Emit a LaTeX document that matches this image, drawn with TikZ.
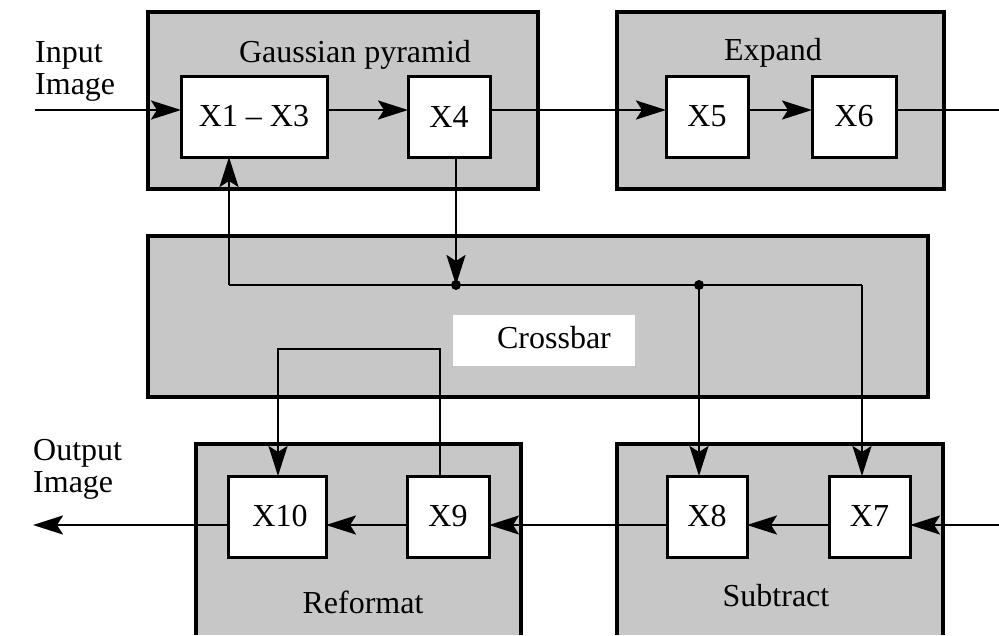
\documentclass[tikz,border=0pt]{standalone}
\usepackage{fontspec}
\setmainfont{Liberation Serif}
\usetikzlibrary{arrows.meta}
\definecolor{panelgray}{gray}{0.78}
\begin{document}
\begin{tikzpicture}[x=1pt,y=-1pt,
  font=\fontsize{32}{36}\selectfont,
  panel/.style={fill=panelgray, draw=black, line width=3.2pt, inner sep=0pt, outer sep=0pt},
  openpanel/.style={fill=panelgray, draw=none, inner sep=0pt, outer sep=0pt},
  edge/.style={draw=black, line width=3.2pt},
  unit/.style={fill=white, draw=black, line width=3pt, inner sep=0pt, outer sep=0pt, minimum height=81pt},
  lbl/.style={inner sep=0pt, anchor=base},
  side/.style={inner sep=0pt, anchor=base west},
  wire/.style={line width=2.5pt},
  conn/.style={wire, -{Stealth[length=30pt, width=19pt, inset=6pt]}},
  dot/.style={fill=black}
]
\useasboundingbox (0,0) rectangle (999,635);
\fill[white] (0,0) rectangle (999,635);

% stage panels
\node[panel, minimum width=390pt, minimum height=177pt] (gauss) at (343,100.5) {};
\node[panel, minimum width=327pt, minimum height=177pt] (expand) at (780.5,100.5) {};
\node[panel, minimum width=780pt, minimum height=161pt] (xbar) at (538,316.5) {};
\node[openpanel, minimum width=325pt, minimum height=191pt] (reform) at (358.5,539.5) {};
\node[openpanel, minimum width=326pt, minimum height=191pt] (subtr) at (780,539.5) {};
\draw[edge] (reform.south west) -- (reform.north west) -- (reform.north east) -- (reform.south east);
\draw[edge] (subtr.south west) -- (subtr.north west) -- (subtr.north east) -- (subtr.south east);

% panel titles
\node[lbl] (tgauss) at (355,62) {Gaussian pyramid};
\node[lbl] (texpand) at (773,60) {Expand};
\node[fill=white, inner sep=0pt, minimum width=182pt, minimum height=51pt] (txbarbg) at (544,340.5) {};
\node[lbl] (txbar) at (554,348) {Crossbar};
\node[lbl] (treform) at (363,613) {Reformat};
\node[lbl] (tsubtr) at (776,606) {Subtract};

% external labels
\node[side] (inA) at (35,62) {Input};
\node[side] (inB) at (35,94) {Image};
\node[side] (outA) at (33,460) {Output};
\node[side] (outB) at (33,492) {Image};

% processing units
\node[unit, minimum width=146pt] (X13) at (254,116.5) {X1 -- X3};
\node[unit, minimum width=82pt] (X4) at (449,116.5) {X4};
\node[unit, minimum width=82pt] (X5) at (707,116.5) {X5};
\node[unit, minimum width=84pt] (X6) at (854,116.5) {X6};
\node[unit, minimum width=98pt] (X10) at (277,516.5) {\hspace*{6pt}X10};
\node[unit, minimum width=82pt] (X9) at (448,516.5) {X9};
\node[unit, minimum width=80pt] (X8) at (707,516.5) {X8};
\node[unit, minimum width=81pt] (X7) at (869.5,516.5) {X7};

% signal rows
\coordinate (inL) at (35,110);
\coordinate (outR) at (999,110);
\coordinate (inR) at (999,525);
\coordinate (outL) at (33,525);

\draw[conn] (inL) -- (X13.west |- inL);
\draw[conn] (X13.east |- inL) -- (X4.west |- inL);
\draw[conn] (X4.east |- inL) -- (X5.west |- inL);
\draw[conn] (X5.east |- inL) -- (X6.west |- inL);
\draw[wire] (X6.east |- inL) -- (outR);

\draw[conn] (inR) -- (X7.east |- inR);
\draw[conn] (X7.west |- inR) -- (X8.east |- inR);
\draw[conn] (X8.west |- inR) -- (X9.east |- inR);
\draw[conn] (X9.west |- inR) -- (X10.east |- inR);
\draw[conn] (X10.west |- inR) -- (outL);

% crossbar bus
\coordinate (j1) at (456,285);
\coordinate (j2) at (699,285);
\coordinate (busL) at (229,285);
\coordinate (busR) at (862,285);
\draw[wire] (busL) -- (busR);
\draw[conn] (X4.south -| j1) -- (j1);
\draw[conn] (busL) -- (X13.south -| busL);
\draw[conn] (busR) -- (X7.north -| busR);
\draw[conn] (j2) -- (X8.north -| j2);
\fill[dot] (j1) circle (5);
\fill[dot] (j2) circle (5);

% reformat loop
\coordinate (lpR) at (440,349);
\coordinate (lpL) at (278,349);
\draw[conn] (X9.north -| lpR) -- (lpR) -- (lpL) -- (X10.north -| lpL);
\end{tikzpicture}
\end{document}
